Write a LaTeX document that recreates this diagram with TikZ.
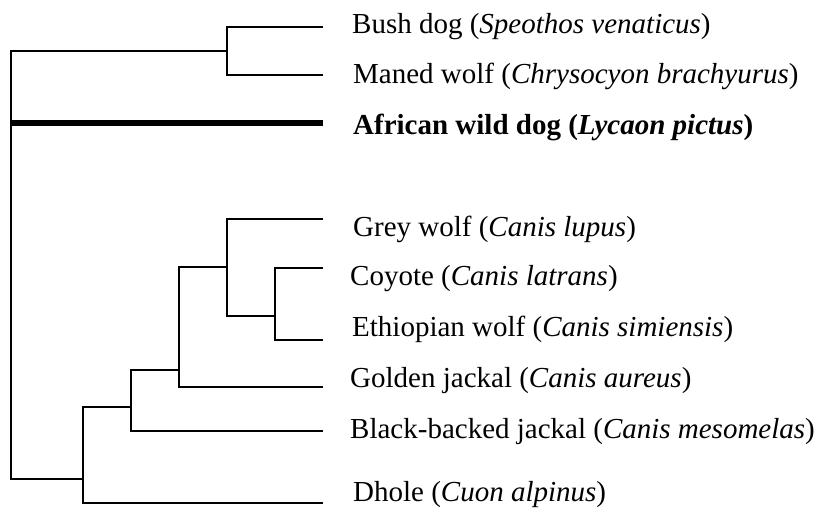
\documentclass[tikz,border=0pt]{standalone}
\usepackage{fontspec}
\setmainfont{Liberation Serif}
\begin{document}
\begin{tikzpicture}[x=1pt,y=-1pt,
  branch/.style={draw=black,line width=1.8pt,line join=miter},
  focal/.style={draw=black,line width=6.5pt},
  taxon/.style={anchor=base west,inner sep=0pt,font=\fontsize{29}{34}\selectfont}]
\useasboundingbox (0,0) rectangle (823,510);

% internal nodes of the tree (vertical bars)
\coordinate (root) at (11,123);
\coordinate (n1) at (227,51);
\coordinate (n2) at (83,479);
\coordinate (n3) at (131,407);
\coordinate (n4) at (179,370);
\coordinate (n5) at (227,267);
\coordinate (n6) at (275,316);

% tips of the branches
\coordinate (tbush) at (323,27);
\coordinate (tmaned) at (323,75);
\coordinate (tafrican) at (323,123);
\coordinate (tgrey) at (323,219);
\coordinate (tcoyote) at (323,268);
\coordinate (tethiopian) at (323,340);
\coordinate (tgolden) at (323,387);
\coordinate (tblack) at (323,431);
\coordinate (tdhole) at (323,503);

% species names
\node[taxon] (lbush) at (352,34) {Bush dog (\textit{Speothos venaticus})};
\node[taxon] (lmaned) at (353,84) {Maned wolf (\textit{Chrysocyon brachyurus})};
\node[taxon] (lafrican) at (353,135) {\textbf{African wild dog (\textit{Lycaon pictus})}};
\node[taxon] (lgrey) at (353,237) {Grey wolf (\textit{Canis lupus})};
\node[taxon] (lcoyote) at (350,286) {Coyote (\textit{Canis latrans})};
\node[taxon] (lethiopian) at (352,337) {Ethiopian wolf (\textit{Canis simiensis})};
\node[taxon] (lgolden) at (350,388) {Golden jackal (\textit{Canis aureus})};
\node[taxon] (lblack) at (350,439) {Black-backed jackal (\textit{Canis mesomelas})};
\node[taxon] (ldhole) at (353,502) {Dhole (\textit{Cuon alpinus})};

% branches
\draw[branch] (root) |- (n1);
\draw[branch] (root) |- (n2);
\draw[focal] (root) -- (tafrican);
\draw[branch] (n1) |- (tbush);
\draw[branch] (n1) |- (tmaned);
\draw[branch] (n2) |- (n3);
\draw[branch] (n2) |- (tdhole);
\draw[branch] (n3) |- (n4);
\draw[branch] (n3) |- (tblack);
\draw[branch] (n4) |- (n5);
\draw[branch] (n4) |- (tgolden);
\draw[branch] (n5) |- (tgrey);
\draw[branch] (n5) |- (n6);
\draw[branch] (n6) |- (tcoyote);
\draw[branch] (n6) |- (tethiopian);
\end{tikzpicture}
\end{document}
